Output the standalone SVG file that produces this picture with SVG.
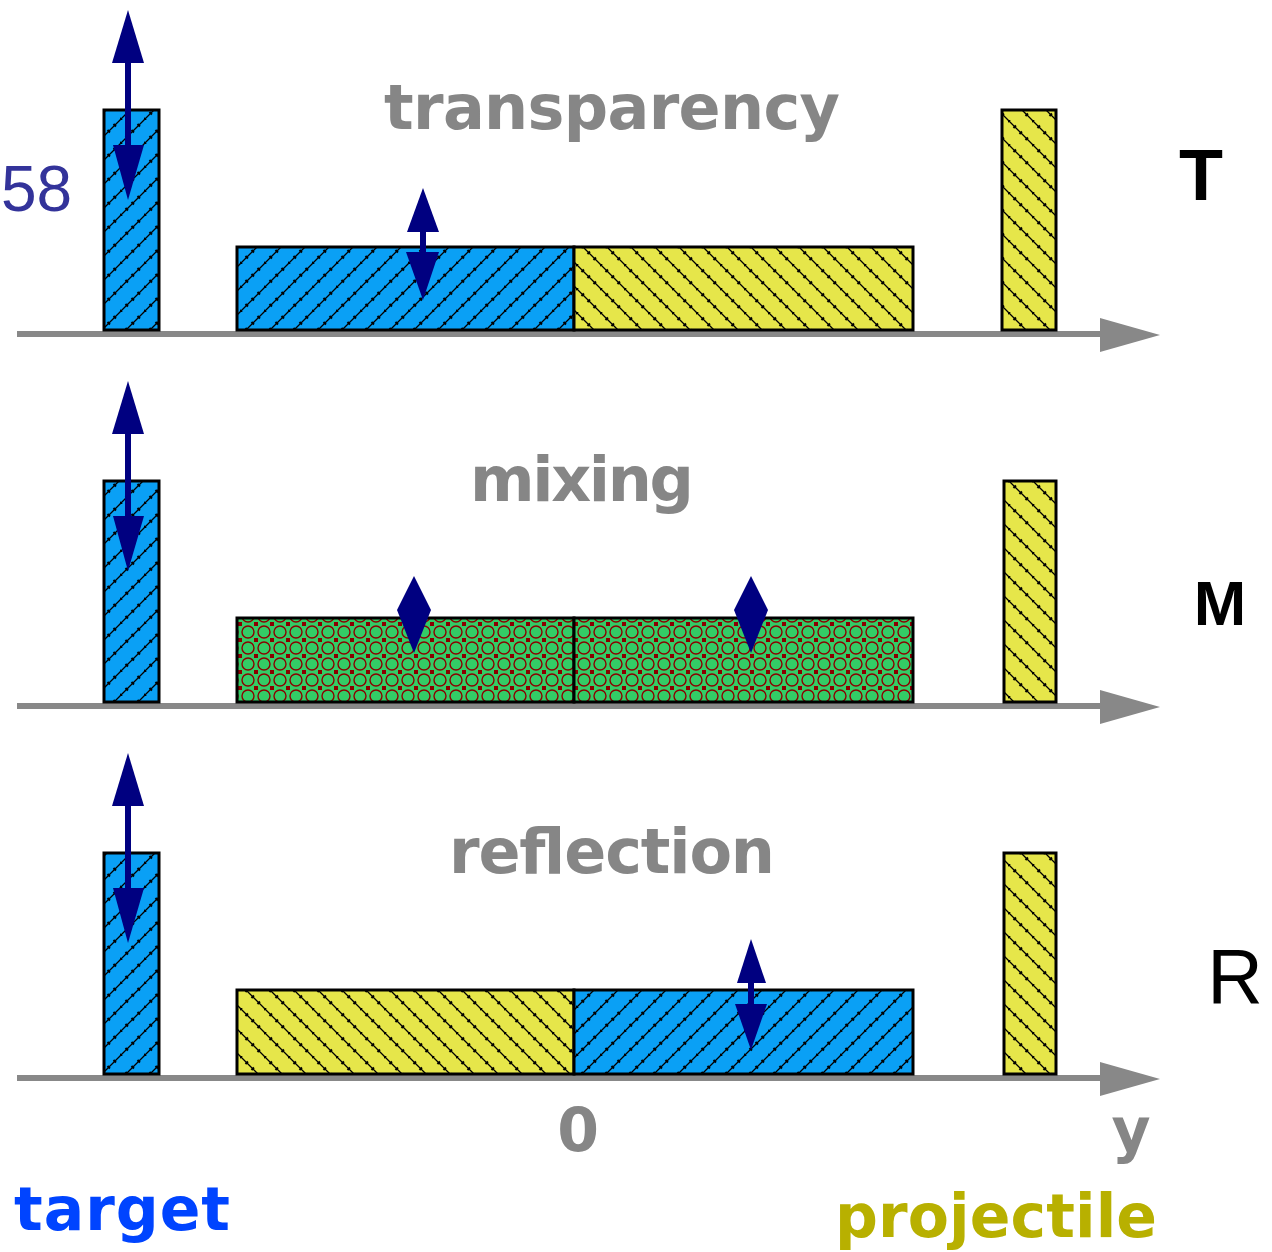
<svg xmlns="http://www.w3.org/2000/svg" width="1272" height="1252" viewBox="0 0 1272 1252">
<defs>
  <pattern id="hatchBlue" patternUnits="userSpaceOnUse" width="24" height="24">
    <rect width="24" height="24" fill="#0aa0f5"/>
    <path d="M-6,6 L6,-6 M0,24 L24,0 M18,30 L30,18" stroke="#000" stroke-width="1.3"/>
    <path d="M0,24 L24,0" stroke="#000" stroke-width="3.5" stroke-dasharray="2 6.5"/>
  </pattern>
  <pattern id="hatchYellow" patternUnits="userSpaceOnUse" width="24" height="24">
    <rect width="24" height="24" fill="#e6e64a"/>
    <path d="M-6,18 L6,30 M0,0 L24,24 M18,-6 L30,6" stroke="#000" stroke-width="1.3"/>
    <path d="M0,0 L24,24" stroke="#000" stroke-width="3.5" stroke-dasharray="2 6.5"/>
  </pattern>
  <pattern id="mixGreen" patternUnits="userSpaceOnUse" width="16" height="16">
    <rect width="16" height="16" fill="#33cc66"/>
    <circle cx="8" cy="8" r="6" fill="none" stroke="#8b0000" stroke-width="1.4"/>
    <rect x="-2" y="-2" width="4" height="4" fill="#8b0000"/>
    <rect x="14" y="-2" width="4" height="4" fill="#8b0000"/>
    <rect x="-2" y="14" width="4" height="4" fill="#8b0000"/>
    <rect x="14" y="14" width="4" height="4" fill="#8b0000"/>
  </pattern>
</defs>
<style>
  .bar { stroke: #000; stroke-width: 3; }
  .axis { stroke: #888; stroke-width: 6; fill: none; }
  .axhead { fill: #888; }
  .arr { fill: #000080; }
  .title { font-family: "DejaVu Sans", sans-serif; font-weight: bold; font-size: 62px; fill: #868686; text-anchor: middle; }
  .lbl { font-family: "DejaVu Sans", sans-serif; font-weight: bold; font-size: 60px; }
  .side { font-family: "Liberation Sans", Arial, sans-serif; fill: #000; }
</style>
<rect width="1272" height="1252" fill="#fff"/>

<g id="connectors">
  <line class="axis" x1="17" y1="334" x2="1105" y2="334"/>
  <polygon class="axhead" points="1100,318 1160,335 1100,352"/>
  <line class="axis" x1="17" y1="706" x2="1105" y2="706"/>
  <polygon class="axhead" points="1100,690 1160,707 1100,724"/>
  <line class="axis" x1="17" y1="1078" x2="1105" y2="1078"/>
  <polygon class="axhead" points="1100,1062 1160,1079 1100,1096"/>
</g>

<g id="panel-T">
  <rect id="T-target" class="bar" x="104" y="110" width="55" height="220" fill="url(#hatchBlue)"/>
  <rect id="T-left" class="bar" x="237" y="247" width="337" height="83" fill="url(#hatchBlue)"/>
  <rect id="T-right" class="bar" x="574" y="247" width="339" height="83" fill="url(#hatchYellow)"/>
  <rect id="T-proj" class="bar" x="1002" y="110" width="54" height="220" fill="url(#hatchYellow)"/>
  <text class="title" x="612" y="129" textLength="456">transparency</text>
  <g class="arr">
    <rect x="125" y="60" width="6" height="90"/>
    <polygon points="128,10 144,63 112,63"/>
    <polygon points="113,145 144,145 128,200"/>
    <rect x="420" y="230" width="6" height="24"/>
    <polygon points="423,188 439,232 407,232"/>
    <polygon points="406,252 439,252 423,300"/>
  </g>
</g>

<g id="panel-M">
  <rect id="M-target" class="bar" x="104" y="481" width="55" height="221" fill="url(#hatchBlue)"/>
  <rect id="M-left" class="bar" x="237" y="618" width="337" height="84" fill="url(#mixGreen)"/>
  <rect id="M-right" class="bar" x="574" y="618" width="339" height="84" fill="url(#mixGreen)"/>
  <rect id="M-proj" class="bar" x="1004" y="481" width="52" height="221" fill="url(#hatchYellow)"/>
  <text class="title" x="582" y="501" textLength="224">mixing</text>
  <g class="arr">
    <rect x="125" y="431" width="6" height="90"/>
    <polygon points="128,381 144,434 112,434"/>
    <polygon points="113,516 144,516 128,571"/>
    <polygon points="414,576 431,610 414,653 397,610"/>
    <polygon points="751,576 768,610 751,653 734,610"/>
  </g>
</g>

<g id="panel-R">
  <rect id="R-target" class="bar" x="104" y="853" width="55" height="221" fill="url(#hatchBlue)"/>
  <rect id="R-left" class="bar" x="237" y="990" width="337" height="84" fill="url(#hatchYellow)"/>
  <rect id="R-right" class="bar" x="574" y="990" width="339" height="84" fill="url(#hatchBlue)"/>
  <rect id="R-proj" class="bar" x="1004" y="853" width="52" height="221" fill="url(#hatchYellow)"/>
  <text class="title" x="612" y="873" textLength="326">reflection</text>
  <g class="arr">
    <rect x="125" y="803" width="6" height="90"/>
    <polygon points="128,753 144,806 112,806"/>
    <polygon points="113,888 144,888 128,943"/>
    <rect x="748" y="980" width="6" height="26"/>
    <polygon points="751,939 766,983 737,983"/>
    <polygon points="735,1004 767,1004 751,1050"/>
  </g>
</g>

<g id="labels">
  <text x="1" y="211" font-family="Liberation Sans, Arial, sans-serif" font-size="64" fill="#33339a">58</text>
  <text class="side" x="1201" y="200" font-size="72" font-weight="bold" text-anchor="middle">T</text>
  <text class="side" x="1220" y="625" font-size="63" font-weight="bold" text-anchor="middle">M</text>
  <text class="side" x="1235" y="1003" font-size="77" text-anchor="middle">R</text>
  <text class="lbl" x="578" y="1151" fill="#868686" text-anchor="middle">0</text>
  <text class="lbl" x="1131" y="1151" fill="#868686" text-anchor="middle">y</text>
  <text class="lbl" x="14" y="1230" fill="#0044ff" textLength="216">target</text>
  <text class="lbl" x="835" y="1237" fill="#b8b000" textLength="322">projectile</text>
</g>
</svg>
